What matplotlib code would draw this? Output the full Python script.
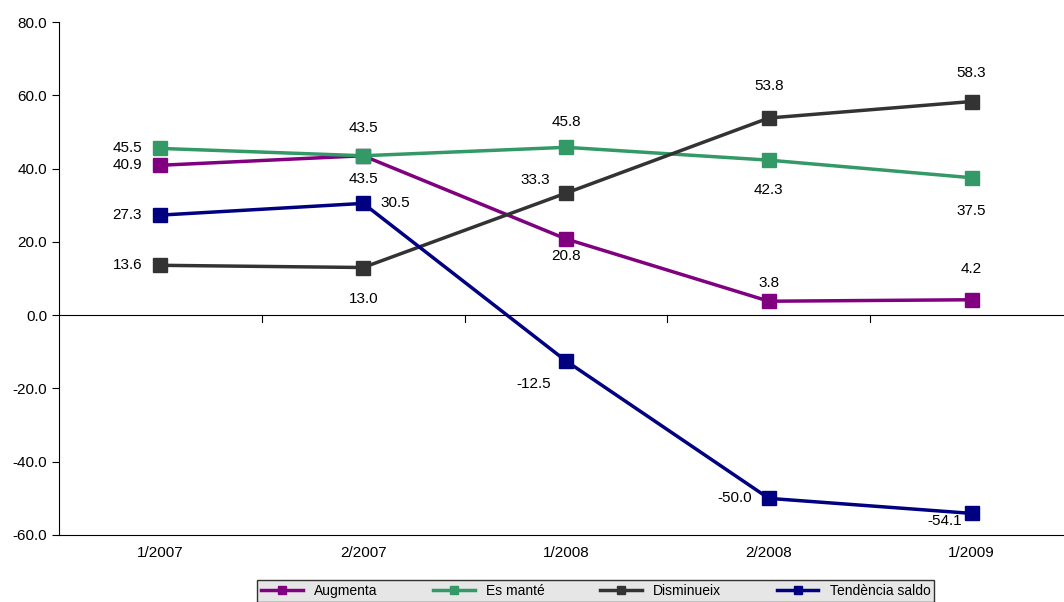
import matplotlib.pyplot as plt
import numpy as np

periods = ['1/2007', '2/2007', '1/2008', '2/2008', '1/2009']
augmenta = [40.9, 43.5, 20.8, 3.8, 4.2]
es_mante = [45.5, 43.5, 45.8, 42.3, 37.5]
disminueix = [13.6, 13.0, 33.3, 53.8, 58.3]
tendencia = [27.3, 30.5, -12.5, -50.0, -54.1]

# label offsets in pixels (dx, dy)
series = [
    ('Augmenta', augmenta, '#800080', [(-33, 0), (0, -23), (0, -17), (0, 18), (0, 31)]),
    ('Es manté', es_mante, '#339966', [(-33, 0), (0, 28), (0, 25), (0, -30), (0, -33)]),
    ('Disminueix', disminueix, '#333333', [(-33, 0), (0, -31), (-31, 13), (0, 32), (0, 29)]),
    ('Tendència saldo', tendencia, '#000080', [(-33, 0), (32, 0), (-32, -23), (-34, 0), (-27, -8)]),
]

plt.rcParams['font.family'] = ['Liberation Sans', 'DejaVu Sans']
fig = plt.figure(figsize=(10.64, 6.02), dpi=100)
ax = fig.add_axes([59 / 1064, 67 / 602, 1014 / 1064, 513 / 602])
x = np.arange(len(periods))
for name, vals, col, offs in series:
    ax.plot(x, vals, color=col, lw=2.5, marker='s', ms=10, label=name, clip_on=False)
    for xi, v, o in zip(x, vals, offs):
        ax.annotate(f'{v:.1f}', (xi, v), textcoords='offset pixels', xytext=o,
                    ha='center', va='center', fontsize=11)

ax.set_xlim(-0.5, 4.5)
ax.set_ylim(-60, 80)
ax.set_yticks(np.arange(-60, 81, 20))
ax.set_yticklabels([f'{t:.1f}' for t in np.arange(-60, 81, 20)], fontsize=11)
ax.set_xticks(x)
ax.set_xticklabels(periods, fontsize=11)
ax.tick_params(axis='x', length=0, pad=8)
ax.tick_params(axis='y', direction='out', length=5)
for s in ['top', 'right']:
    ax.spines[s].set_visible(False)
ax.axhline(0, color='black', lw=0.8)
for b in np.arange(0.5, 4.6, 1):
    ax.plot([b, b], [0, -2], color='black', lw=0.8)

leg = fig.legend(loc='lower center', bbox_to_anchor=(0.56, -0.012), ncol=4, frameon=True,
                 fontsize=10, fancybox=False, edgecolor='black', handlelength=3,
                 columnspacing=4, borderpad=0.3, markerscale=0.6)
leg.get_frame().set_facecolor('#e0e0e0')
fig.savefig('out.png', dpi=100)
